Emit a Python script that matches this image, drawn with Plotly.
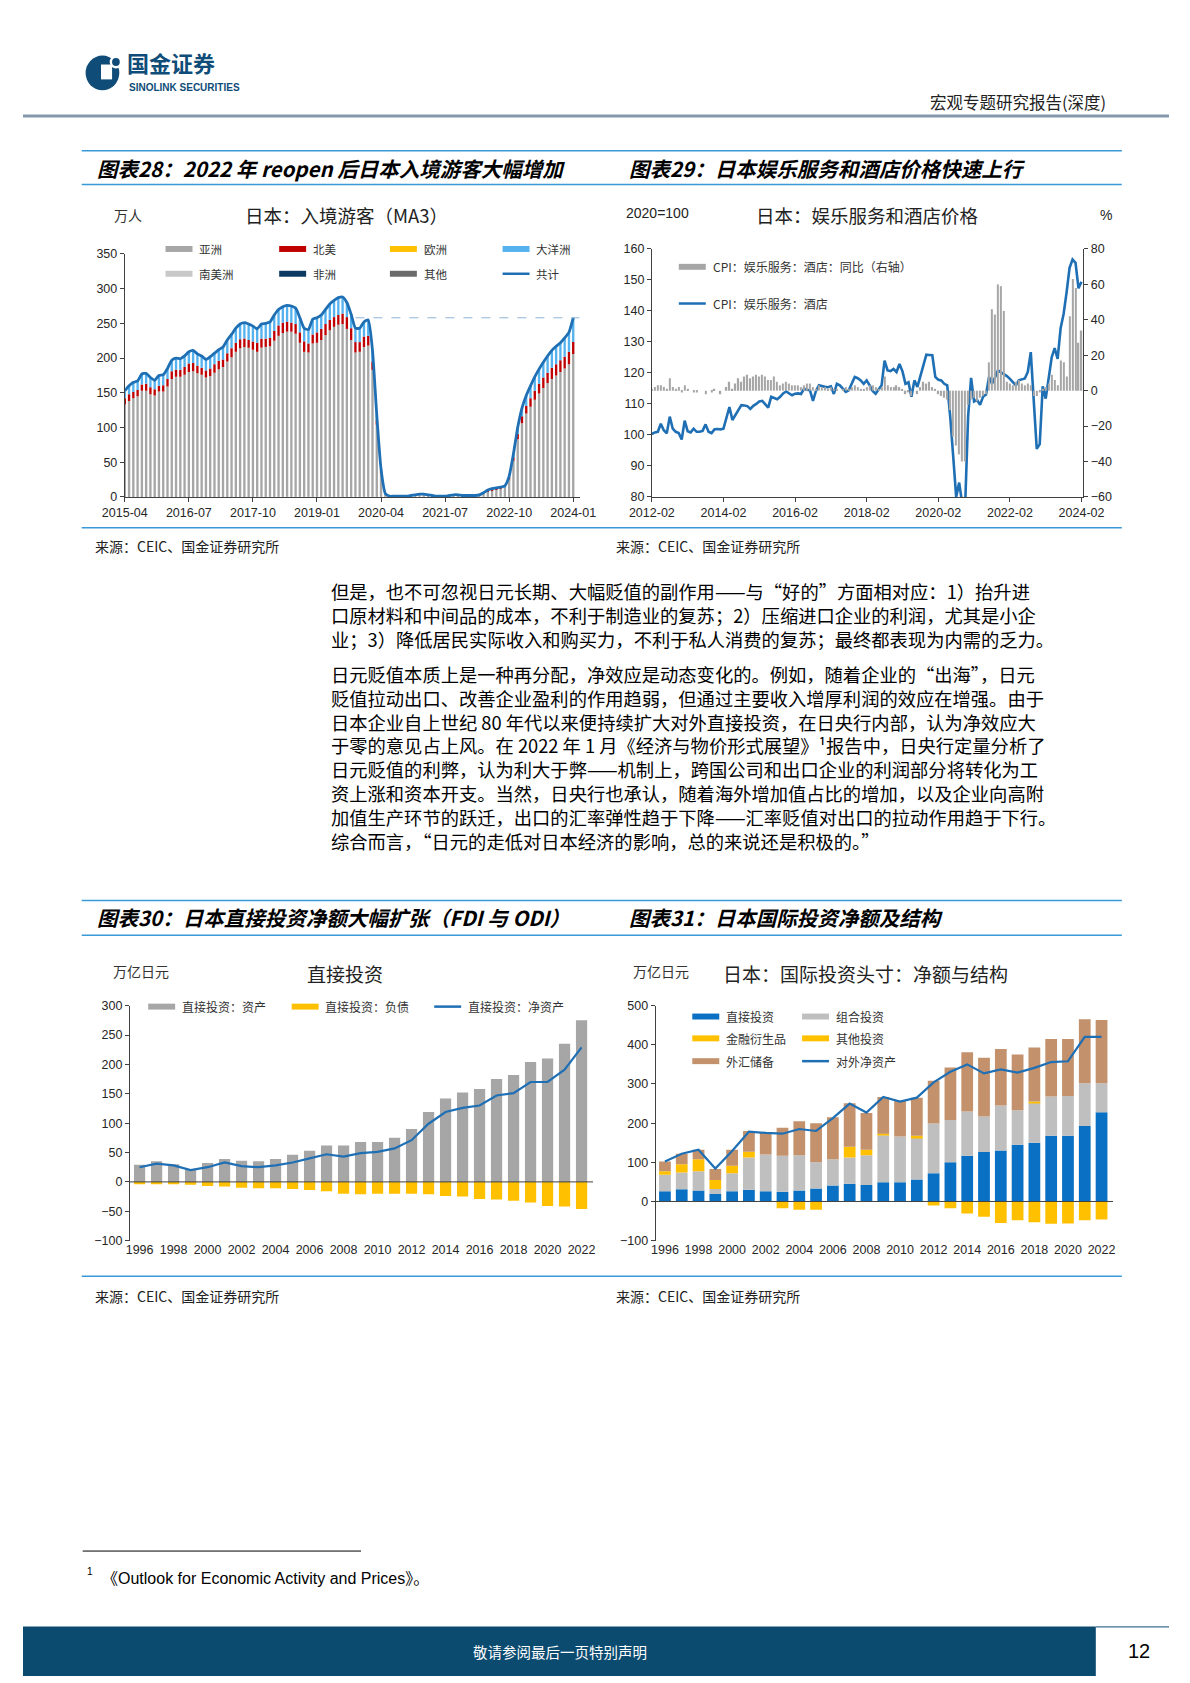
import plotly.graph_objects as go
import pandas as pd

W, H = 1190, 1683
def X(px): return px / W
def Y(py): return 1 - py / H

CJK = "Noto Sans CJK SC"
NUM = "Liberation Sans, Arial, Noto Sans CJK SC"

# ---------------- DATA ----------------
# Chart 28: Japan inbound visitors (MA3, 万人), monthly 2015-04 .. 2024-01
visitor_months = [str(p) for p in pd.period_range("2015-04", "2024-01", freq="M")]
visitor_tick_labels = ["2015-04", "2016-07", "2017-10", "2019-01", "2020-04", "2021-07", "2022-10", "2024-01"]
visitor_total = [153,160,165,167,177,178,172,168,175,176,
                 185,197,200,199,203,209,211,206,203,198,
                 202,207,212,216,226,234,243,249,251,249,
                 246,242,249,250,252,262,270,274,276,275,
                 272,258,243,241,256,258,262,270,278,283,
                 287,288,280,263,243,243,252,255,211,118,
                 40,5,1,1,1,1,1,2,3,4,
                 4,3,2,1,1,1,2,3,3,2,
                 2,2,2,3,6,10,12,13,14,16,
                 30,62,100,128,146,160,173,184,194,203,
                 211,217,222,229,237,258]
visitor_asia = [133,138,142,145,153,153,148,146,152,152,
                159,170,173,173,176,180,181,178,176,172,
                174,179,184,187,195,201,209,214,216,215,
                212,209,215,216,217,225,232,236,238,238,
                235,222,209,208,221,222,226,233,240,245,
                248,249,242,226,208,209,216,218,183,104,
                35,4,1,1,1,1,1,1,2,3,
                3,2,1,1,1,1,1,2,2,1,
                1,1,1,2,5,8,10,11,12,13,
                25,52,83,106,120,130,140,149,157,164,
                170,175,180,185,191,206]
visitor_north_america = [9,10,9,9,9,10,10,9,8,9,
                         11,11,10,10,11,12,12,11,10,10,
                         11,12,12,11,12,13,13,13,12,11,
                         12,13,13,12,12,14,15,15,14,13,
                         14,15,15,13,13,15,16,16,15,14,
                         14,15,17,17,15,14,15,14,12,6,
                         2,0,0,0,0,0,0,0,0,0,
                         0,0,0,0,0,0,0,0,0,0,
                         0,0,0,0,0,1,1,1,1,1,
                         3,5,8,10,11,12,13,14,15,15,
                         16,16,17,17,18,17]
visitor_legend = ["亚洲", "北美", "欧洲", "大洋洲", "南美洲", "非洲", "其他", "共计"]

# Chart 29: CPI hotel index (2020=100) and YoY (%), monthly 2012-02 .. 2024-02
cpi_months = [str(p) for p in pd.period_range("2012-02", "2024-02", freq="M")]
cpi_tick_labels = ["2012-02", "2014-02", "2016-02", "2018-02", "2020-02", "2022-02", "2024-02"]
hotel_cpi = [100.3,100.8,101.0,103.6,101.5,100.5,105.9,102.0,101.0,100.6,98.5,104.6,
             101.2,100.8,102.0,101.0,101.0,101.3,103.4,101.0,100.6,101.8,101.9,101.8,
             102.0,105.5,109.0,104.8,106.5,108.0,109.6,109.5,109.3,108.4,109.4,110.0,
             110.8,111.0,109.8,108.8,112.3,112.0,111.5,112.3,113.4,114.0,113.4,112.8,
             113.3,113.4,113.2,114.9,114.6,114.4,111.0,114.2,116.0,115.7,115.5,115.4,
             115.7,113.2,116.5,116.0,114.8,113.9,114.4,116.5,118.7,118.3,117.6,116.5,
             117.6,116.0,114.2,113.3,114.8,116.0,124.0,120.8,120.6,121.3,120.3,122.9,
             120.5,116.5,117.0,112.3,117.6,115.5,119.0,122.5,125.9,125.8,125.7,118.7,
             117.8,117.6,116.5,116.0,105.9,93.1,80.0,84.6,78.0,77.0,106.0,118.4,
             110.8,111.3,109.7,112.3,113.0,118.7,116.5,118.5,120.8,120.2,119.7,119.0,
             118.1,117.0,116.0,117.6,117.8,118.2,120.3,126.7,111.0,95.5,97.0,115.7,
             111.7,118.0,125.0,128.0,124.5,134.4,139.0,146.0,153.9,156.6,155.5,147.3,
             149.4]
hotel_yoy = [1,2,3,3,2,1,7,2,1,2,-1,3,
             1,0,-1,-1,0,0,-2,0,-1,1,0,-2,
             0,2,5,1,4,7,5,8,9,7,8,9,
             8,9,8,6,6,8,5,3,4,5,4,3,
             3,3,2,3,4,4,2,1,3,2,2,1,
             2,1,1,0,1,2,1,2,3,2,1,1,
             2,3,3,2,1,2,8,3,2,2,3,2,
             1,-2,-1,-3,0,-2,2,5,4,5,2,1,
             -2,-3,-4,-5,-11,-26,-31,-36,-40,-40,-8,-5,
             -4,-6,-4,-3,-2,16,46,43,60,59,45,5,
             4,3,5,6,4,3,4,3,-3,-3,-1,1,
             2,4,9,6,3,17,16,8,42,63,58,27,
             34]

# Chart 30: direct investment (万亿日元), 1996..2022
years = list(range(1996, 2023))
fdi_assets = [29,35,30,22,32,39,36,35,39,46,53,62,62,68,68,75,90,119,142,152,158,175,182,204,210,235,275]
fdi_liabilities = [-4,-4,-4,-5,-7,-8,-10,-11,-11,-12,-14,-16,-20,-21,-20,-20,-20,-21,-24,-25,-29,-30,-32,-35,-41,-42,-46]
fdi_net = [25,31,28,20,25,33,27,25,28,33,40,47,43,49,51,57,71,99,119,126,130,147,151,170,170,191,229]

# Chart 31: international investment position (万亿日元), 1996..2022
iip_direct = [26,31,28,19,26,30,26,25,28,33,41,45,42,49,49,56,72,100,117,126,130,145,150,168,168,193,228]
iip_portfolio = [42,43,49,13,46,82,94,92,90,67,67,67,76,120,117,107,127,108,113,91,115,88,102,100,101,109,74]
iip_derivatives = [0,0,0,0,0,0,0,0,0,0,0,0,0,4,0,5,0,0,0,0,0,0,3,0,0,0,0]
iip_other = [9,21,31,23,19,15,0,-17,-21,-21,0,28,14,0,0,0,-10,-17,-31,-39,-55,-48,-53,-57,-56,-48,-46]
iip_reserves = [25,27,24,28,41,53,55,71,87,100,107,111,94,94,91,97,109,134,151,150,144,142,138,147,146,163,161]
iip_net = [102,122,132,84,129,178,175,173,185,180,213,250,227,267,255,265,304,331,350,327,337,329,341,356,358,420,420]

# ---------------- COLORS ----------------
GRAY = "#a6a6a6"
RED = "#c00000"
YEL = "#ffc000"
LBLUE = "#56b2ee"
LGRAY = "#c8c8c8"
NAVY = "#0d3a63"
DGRAY = "#6b6b6b"
LINE = "#1f6fb5"
BLUE = "#0a70c4"
BROWN = "#c3916b"
PGRAY = "#bfbfbf"
AX = "#404040"
BAR_LINE = "#3a9ad8"

fig = go.Figure()

# ---------- Chart 28 ----------
vx = list(range(len(visitor_total)))
visitor_rest = [t - a - n for t, a, n in zip(visitor_total, visitor_asia, visitor_north_america)]
for vals, col in [(visitor_asia, GRAY), (visitor_north_america, RED), (visitor_rest, LBLUE)]:
    fig.add_trace(go.Bar(x=vx, y=vals, marker=dict(color=col, line=dict(width=0)),
                         width=0.55, xaxis="x", yaxis="y"))
fig.add_trace(go.Scatter(x=vx, y=visitor_total, mode="lines",
                         line=dict(color=LINE, width=2.8, shape="spline", smoothing=0.5),
                         xaxis="x", yaxis="y"))

# ---------- Chart 29 ----------
cx = list(range(len(hotel_cpi)))
fig.add_trace(go.Bar(x=cx, y=hotel_yoy, marker=dict(color=GRAY, line=dict(width=0)),
                     width=0.45, xaxis="x2", yaxis="y3"))
fig.add_trace(go.Scatter(x=cx, y=hotel_cpi, mode="lines", line=dict(color=LINE, width=2.6),
                         xaxis="x2", yaxis="y2"))

# ---------- Chart 30 ----------
yx = list(range(len(years)))
fig.add_trace(go.Bar(x=yx, y=fdi_assets, marker=dict(color=GRAY, line=dict(width=0)),
                     width=0.66, xaxis="x3", yaxis="y4"))
fig.add_trace(go.Bar(x=yx, y=fdi_liabilities, marker=dict(color=YEL, line=dict(width=0)),
                     width=0.66, xaxis="x3", yaxis="y4"))
fig.add_trace(go.Scatter(x=yx, y=fdi_net, mode="lines", line=dict(color=LINE, width=2.2),
                         xaxis="x3", yaxis="y4"))

# ---------- Chart 31 ----------
for vals, col in [(iip_direct, BLUE), (iip_portfolio, PGRAY), (iip_derivatives, YEL),
                  (iip_other, YEL), (iip_reserves, BROWN)]:
    fig.add_trace(go.Bar(x=yx, y=vals, marker=dict(color=col, line=dict(width=0)),
                         width=0.7, xaxis="x4", yaxis="y5"))
fig.add_trace(go.Scatter(x=yx, y=iip_net, mode="lines", line=dict(color=LINE, width=2.2),
                         xaxis="x4", yaxis="y5"))

# ---------------- AXES ----------------
tickfont = dict(family=NUM, size=12.5, color="#262626")
def yax(domain, rng, dtick, **kw):
    d = dict(domain=domain, range=rng, dtick=dtick, showline=True, linecolor=AX, linewidth=1,
             ticks="outside", ticklen=4, tickcolor=AX, showgrid=False, zeroline=False,
             tickfont=tickfont, fixedrange=True)
    d.update(kw)
    return d

def xax(domain, rng, tickvals, ticktext, **kw):
    d = dict(domain=domain, range=rng, tickmode="array", tickvals=tickvals, ticktext=ticktext,
             showline=True, linecolor=AX, linewidth=1, ticks="outside", ticklen=4, tickcolor=AX,
             showgrid=False, zeroline=False, tickfont=tickfont, fixedrange=True)
    d.update(kw)
    return d

v_ticks = [visitor_months.index(m) for m in visitor_tick_labels]
c_ticks = [cpi_months.index(m) for m in cpi_tick_labels]
y_tickvals = [i for i, y in enumerate(years) if y % 2 == 0]
y_ticktext = [str(years[i]) for i in y_tickvals]
small_tf = dict(family=NUM, size=12.5, color="#262626")

fig.update_layout(
    xaxis=xax([X(105.7), X(578)], [0, 106.5], v_ticks, visitor_tick_labels, anchor="y"),
    yaxis=yax([Y(494), Y(249)], [0, 350], 50, anchor="x"),
    xaxis2=xax([X(653), X(1101)], [0, 144.6], c_ticks, cpi_tick_labels, anchor="y2"),
    yaxis2=yax([Y(494), Y(244)], [80, 160], 10, anchor="x2"),
    yaxis3=yax([Y(494), Y(244)], [-60, 80], 20, anchor="x2", overlaying="y2", side="right"),
    xaxis3=xax([X(111), X(592)], [-0.57, 26.68], y_tickvals, y_ticktext, anchor="y4",
               showline=False, ticks="", tickfont=small_tf),
    yaxis4=yax([Y(1244), Y(1007)], [-100, 300], 50, anchor="x3", tickfont=small_tf),
    xaxis4=xax([X(657), X(1132)], [-0.55, 26.69], y_tickvals, y_ticktext, anchor="y5",
               showline=False, ticks="", tickfont=small_tf),
    yaxis5=yax([Y(1244), Y(1007)], [-100, 500], 100, anchor="x4", tickfont=small_tf),
)

# ---------------- SHAPES & TEXT ----------------
shapes = []
ann = []

def hline(px0, px1, py, color, width, dash=None):
    ln = dict(color=color, width=width)
    if dash:
        ln["dash"] = dash
    shapes.append(dict(type="line", xref="paper", yref="paper", x0=X(px0), x1=X(px1),
                       y0=Y(py), y1=Y(py), line=ln, layer="above"))

def text(px, py, s, size, anchor="left", color="#000", family=CJK, valign="middle"):
    ann.append(dict(xref="paper", yref="paper", x=X(px), y=Y(py), text=s, showarrow=False,
                    xanchor=anchor, yanchor=valign, align=anchor if anchor != "center" else "center",
                    font=dict(family=family, size=size, color=color)))

def leg_box(px, py, color, label, size=11.5, w=28, h=6):
    shapes.append(dict(type="rect", xref="paper", yref="paper", x0=X(px), x1=X(px + w),
                       y0=Y(py + h / 2), y1=Y(py - h / 2), fillcolor=color, line=dict(width=0)))
    text(px + w + 5, py, label, size, color="#333")

def leg_line(px, py, color, label, size=11.5, w=28):
    hline(px, px + w, py, color, 2.5)
    text(px + w + 5, py, label, size, color="#333")

# Logo
shapes.append(dict(type="circle", xref="paper", yref="paper", x0=X(65), x1=X(100),
                   y0=Y(84), y1=Y(49), fillcolor="#0f4c78", line=dict(width=0)))
shapes.append(dict(type="rect", xref="paper", yref="paper", x0=X(81), x1=X(92.5),
                   y0=Y(73), y1=Y(58), fillcolor="white", line=dict(width=0)))
shapes.append(dict(type="circle", xref="paper", yref="paper", x0=X(90), x1=X(103),
                   y0=Y(62), y1=Y(49), fillcolor="white", line=dict(width=0)))
shapes.append(dict(type="circle", xref="paper", yref="paper", x0=X(92.5), x1=X(100.5),
                   y0=Y(59.5), y1=Y(51.5), fillcolor="#0f4c78", line=dict(width=0)))
text(106, 74, "<b>国金证券</b>", 22, color="#0f4c78", valign="bottom")
text(108, 73.5, "<b>SINOLINK SECURITIES</b>", 10, color="#0f4c78",
     family="Liberation Sans, Arial", valign="top")

# Header
text(1127, 96, "宏观专题研究报告(深度)", 16.5, anchor="right", color="#222")
hline(0, 1190, 110, "#8499ab", 3)

# Title bars
for top, bot, tcenter, t1, t2 in [
    (145, 179, 162, "图表28：2022 年 reopen 后日本入境游客大幅增加", "图表29：日本娱乐服务和酒店价格快速上行"),
    (901, 936, 918, "图表30：日本直接投资净额大幅扩张（FDI 与 ODI）", "图表31：日本国际投资净额及结构"),
]:
    hline(61, 1141, top, BAR_LINE, 1.5)
    hline(61, 1141, bot, BAR_LINE, 1.5)
    text(75, tcenter, "<b><i>" + t1 + "</i></b>", 20.5)
    text(627, tcenter, "<b><i>" + t2 + "</i></b>", 20.5)

hline(61, 1141, 525, BAR_LINE, 1.5)
hline(61, 1141, 1280, BAR_LINE, 1.5)
for sx, sy in [(73, 544), (614, 544), (73, 1300), (614, 1300)]:
    text(sx, sy, "来源：CEIC、国金证券研究所", 14, color="#222")

# Chart 28 headings & legend
text(92, 210, "万人", 14, color="#333")
text(336, 210, "日本：入境游客（MA3）", 18.5, anchor="center", color="#222")
box_cols = [GRAY, RED, YEL, LBLUE, LGRAY, NAVY, DGRAY]
pos = [(148, 244), (266, 244), (381, 244), (498, 244), (148, 269), (266, 269), (381, 269)]
for (lx, ly), col, lab in zip(pos, box_cols, visitor_legend[:7]):
    leg_box(lx, ly, col, lab)
leg_line(498, 269, LINE, visitor_legend[7])
shapes.append(dict(type="line", xref="x", yref="y", x0=54, x1=106.5,
                   y0=visitor_total[-1], y1=visitor_total[-1],
                   line=dict(color="#8db3d6", width=1, dash="dash")))

# Chart 29 headings & legend
text(624, 208, "2020=100", 14, color="#222", family=NUM)
text(877, 210, "日本：娱乐服务和酒店价格", 18.5, anchor="center", color="#222")
text(1125, 210, "%", 14, anchor="center", color="#222", family=NUM)
leg_box(681, 262, GRAY, "CPI：娱乐服务：酒店：同比（右轴）", size=12)
leg_line(681, 299, LINE, "CPI：娱乐服务：酒店", size=12)

# Chart 30 headings & legend
text(91, 972, "万亿日元", 14, color="#333")
text(334, 975, "直接投资", 19, anchor="center", color="#222")
leg_box(130, 1008, GRAY, "直接投资：资产", size=12)
leg_box(279, 1008, YEL, "直接投资：负债", size=12)
leg_line(427, 1008, LINE, "直接投资：净资产", size=12)
shapes.append(dict(type="line", xref="x3", yref="y4", x0=-0.57, x1=26.68, y0=0, y1=0,
                   line=dict(color=AX, width=1)))

# Chart 31 headings & legend
text(631, 972, "万亿日元", 14, color="#333")
text(875, 975, "日本：国际投资头寸：净额与结构", 19, anchor="center", color="#222")
leg_box(695, 1018, BLUE, "直接投资", size=12)
leg_box(809, 1018, PGRAY, "组合投资", size=12)
leg_box(695, 1040, YEL, "金融衍生品", size=12)
leg_box(809, 1040, YEL, "其他投资", size=12)
leg_box(695, 1063, BROWN, "外汇储备", size=12)
leg_line(809, 1063, LINE, "对外净资产", size=12)
shapes.append(dict(type="line", xref="x4", yref="y5", x0=-0.55, x1=26.69, y0=0, y1=0,
                   line=dict(color=AX, width=1)))

# Body text (one block per paragraph)
para1 = [
    "但是，也不可忽视日元长期、大幅贬值的副作用——与“好的”方面相对应：1）抬升进",
    "口原材料和中间品的成本，不利于制造业的复苏；2）压缩进口企业的利润，尤其是小企",
    "业；3）降低居民实际收入和购买力，不利于私人消费的复苏；最终都表现为内需的乏力。",
]
para2 = [
    "日元贬值本质上是一种再分配，净效应是动态变化的。例如，随着企业的“出海”，日元",
    "贬值拉动出口、改善企业盈利的作用趋弱，但通过主要收入增厚利润的效应在增强。由于",
    "日本企业自上世纪 80 年代以来便持续扩大对外直接投资，在日央行内部，认为净效应大",
    "于零的意见占上风。在 2022 年 1 月《经济与物价形式展望》¹报告中，日央行定量分析了",
    "日元贬值的利弊，认为利大于弊——机制上，跨国公司和出口企业的利润部分将转化为工",
    "资上涨和资本开支。当然，日央行也承认，随着海外增加值占比的增加，以及企业向高附",
    "加值生产环节的跃迁，出口的汇率弹性趋于下降——汇率贬值对出口的拉动作用趋于下行。",
    "综合而言，“日元的走低对日本经济的影响，总的来说还是积极的。”",
]
text(318, 613.5, "<br>".join(para1), 18.3, color="#000")
text(318, 757, "<br>".join(para2), 18.3, color="#000")

# Footnote
hline(62, 351, 1557, "#000", 1)
text(64, 1578, "1", 10, color="#000", family=NUM)
text(80, 1585, "《Outlook for Economic Activity and Prices》。", 16, color="#000",
     family="Liberation Sans, Arial, Noto Sans CJK SC")

# Footer
shapes.append(dict(type="rect", xref="paper", yref="paper", x0=X(0), x1=X(1114),
                   y0=Y(1683), y1=Y(1633), fillcolor="#0b4b70", line=dict(width=0), layer="below"))
hline(1114, 1190, 1633.5, "#0b4b70", 1)
text(558, 1658, "敬请参阅最后一页特别声明", 14.5, anchor="center", color="#ffffff")
text(1159, 1658, "12", 20, anchor="center", color="#000", family=NUM)

fig.update_layout(
    width=W, height=H, autosize=False, margin=dict(l=0, r=0, t=0, b=0, pad=0),
    paper_bgcolor="white", plot_bgcolor="white",
    showlegend=False, barmode="relative", bargap=0.4,
    font=dict(family=NUM, color="#262626"),
    shapes=shapes, annotations=ann,
)

fig.write_html("out.html", config={"displayModeBar": False},
               post_script="document.body.style.margin='0';document.body.style.padding='0';")
